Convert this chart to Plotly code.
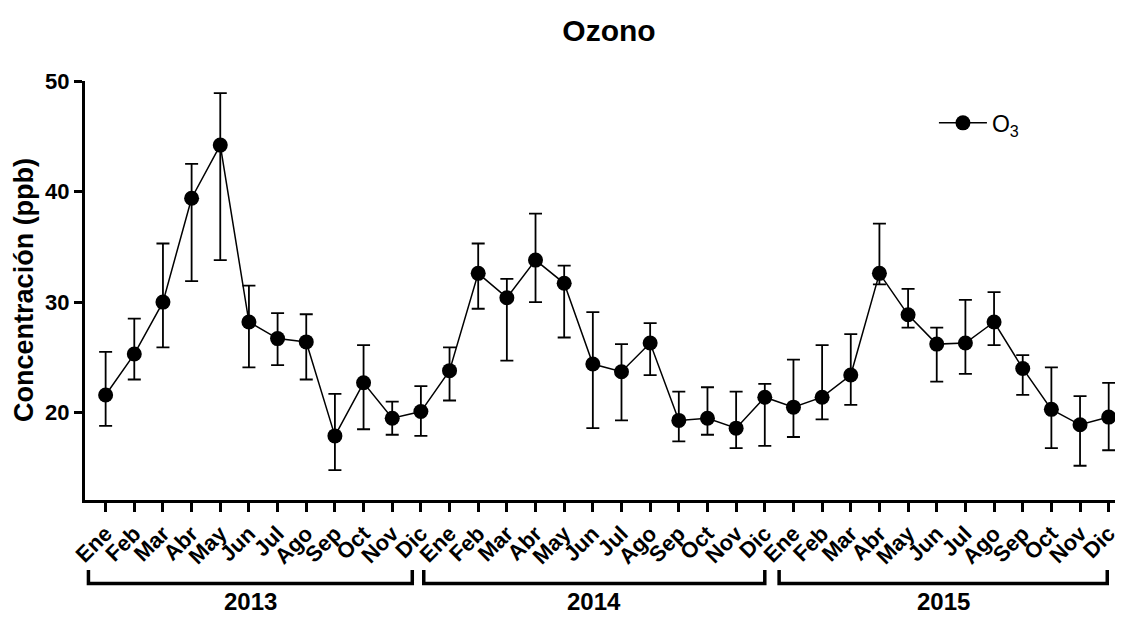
import plotly.graph_objects as go

FONT = "Arial, Liberation Sans, sans-serif"

months = ["Ene", "Feb", "Mar", "Abr", "May", "Jun", "Jul", "Ago", "Sep", "Oct", "Nov", "Dic"]
years = ["2013", "2014", "2015"]

o3_mean = [21.6, 25.3, 30.0, 39.4, 44.2, 28.2, 26.7, 26.4, 17.9, 22.7, 19.5, 20.1,
           23.8, 32.6, 30.4, 33.8, 31.7, 24.4, 23.7, 26.3, 19.3, 19.5, 18.6, 21.4,
           20.5, 21.4, 23.4, 32.6, 28.85, 26.2, 26.3, 28.2, 24.0, 20.3, 18.9, 19.6]
o3_upper = [25.5, 28.5, 35.3, 42.5, 48.9, 31.5, 29.0, 28.9, 21.7, 26.1, 21.0, 22.4,
            25.9, 35.3, 32.1, 38.0, 33.3, 29.1, 26.2, 28.1, 21.9, 22.3, 21.9, 22.6,
            24.8, 26.1, 27.1, 37.1, 31.2, 27.7, 30.2, 30.9, 25.2, 24.1, 21.5, 22.7]
o3_lower = [18.8, 23.0, 25.9, 31.9, 33.8, 24.1, 24.3, 23.0, 14.8, 18.5, 18.0, 17.9,
            21.1, 29.4, 24.7, 30.0, 26.8, 18.6, 19.3, 23.4, 17.4, 18.0, 16.8, 17.0,
            17.8, 19.4, 20.7, 31.6, 27.7, 22.8, 23.5, 26.1, 21.6, 16.8, 15.2, 16.6]

ytick_vals = [20, 30, 40, 50]

x_idx = list(range(len(o3_mean)))
tick_text = [m for _ in years for m in months]
err_plus = [u - m for u, m in zip(o3_upper, o3_mean)]
err_minus = [m - l for m, l in zip(o3_mean, o3_lower)]

fig = go.Figure()
fig.add_trace(go.Scatter(
    x=x_idx, y=o3_mean, mode="lines+markers", name="O<sub>3</sub>",
    line=dict(color="black", width=1.5),
    marker=dict(color="black", size=15, symbol="circle"),
    error_y=dict(type="data", symmetric=False, array=err_plus, arrayminus=err_minus,
                 color="black", thickness=1.8, width=6.5),
))

# year brackets under the month labels
bracket_spans = [(-0.6, 10.7), (11.1, 23.0), (23.5, 34.95)]
y_line, y_top = -0.199, -0.167
for (x0, x1), yr in zip(bracket_spans, years):
    fig.add_shape(type="path", xref="x", yref="paper",
                  path=f"M {x0},{y_top} L {x0},{y_line} L {x1},{y_line} L {x1},{y_top}",
                  line=dict(color="black", width=3.5))
    fig.add_annotation(x=(x0 + x1) / 2, y=-0.243, xref="x", yref="paper",
                       text=f"<b>{yr}</b>", showarrow=False,
                       font=dict(family=FONT, size=24, color="black"),
                       xanchor="center", yanchor="middle")

fig.add_annotation(x=-0.0594, y=0.501, xref="paper", yref="paper",
                   text="<b>Concentración (ppb)</b>", textangle=-90, showarrow=False,
                   font=dict(family=FONT, size=27, color="black"),
                   xanchor="center", yanchor="middle")

fig.update_layout(
    width=1122, height=617,
    margin=dict(l=85, r=2, t=81, b=117),
    paper_bgcolor="white", plot_bgcolor="white",
    title=dict(text="<b>Ozono</b>", x=0.5428, xanchor="center", y=0.9498, yanchor="middle",
               font=dict(family=FONT, size=30, color="black")),
    font=dict(family=FONT, color="black"),
    showlegend=True,
    legend=dict(x=0.8242, y=0.9, xanchor="left", yanchor="middle", itemwidth=48,
                font=dict(family=FONT, size=23, color="black"),
                bgcolor="rgba(0,0,0,0)"),
    xaxis=dict(range=[-0.72, 35.22], tickmode="array", tickvals=x_idx, ticktext=tick_text,
               tickangle=-45, ticks="outside", ticklen=9, tickwidth=3, tickcolor="black",
               ticklabeloverflow="allow",
               showline=True, linecolor="black", linewidth=3, showgrid=False, zeroline=False,
               tickfont=dict(family=FONT, size=22, color="black", weight="bold")),
    yaxis=dict(range=[12.1, 50], tickmode="array", tickvals=ytick_vals,
               ticks="outside", ticklen=8, tickwidth=3, tickcolor="black",
               showline=True, linecolor="black", linewidth=3, showgrid=False, zeroline=False,
               tickfont=dict(family=FONT, size=22, color="black", weight="bold")),
)

fig.write_html("out.html")
